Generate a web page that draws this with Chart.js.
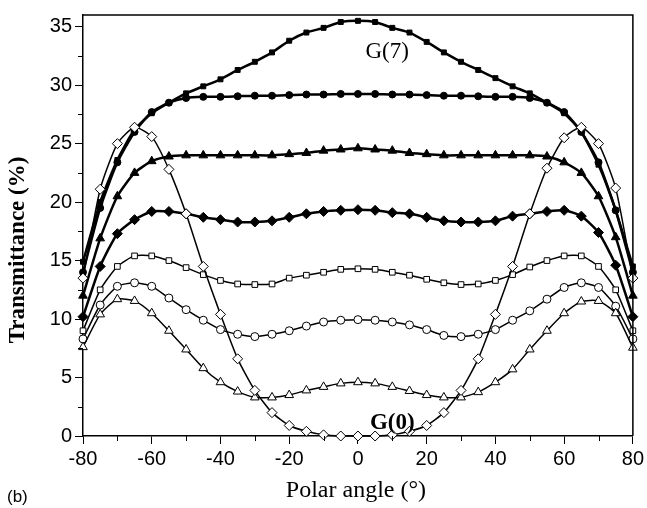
<!DOCTYPE html>
<html>
<head>
<meta charset="utf-8">
<script src="https://cdn.jsdelivr.net/npm/chart.js@4/dist/chart.umd.min.js"></script>
<style>
  html, body { margin: 0; padding: 0; background: #fff; }
  #wrap { width: 647px; height: 508px; }
</style>
</head>
<body>
<div id="wrap"><canvas id="trans-chart" width="647" height="508"></canvas></div>
<script>
// polar angle in degrees, one point every 5 degrees
const angles = [-80, -75, -70, -65, -60, -55, -50, -45, -40, -35, -30, -25, -20, -15, -10, -5, 0,
                5, 10, 15, 20, 25, 30, 35, 40, 45, 50, 55, 60, 65, 70, 75, 80];

// transmittance (%) per grating
const g0 = [13.5, 21.1, 25.0, 26.4, 25.6, 22.8, 19.0, 14.5, 10.4, 6.6, 3.9, 2.0, 0.9, 0.4, 0.1, 0.0, 0.0,
            0.0, 0.1, 0.4, 0.9, 2.0, 3.9, 6.6, 10.4, 14.5, 19.0, 22.9, 25.5, 26.4, 25.0, 21.2, 13.5];
const openTriangle = [7.6, 10.4, 11.7, 11.55, 10.5, 9.0, 7.4, 5.8, 4.6, 3.8, 3.3, 3.3, 3.5, 3.9, 4.2, 4.5, 4.6,
                      4.5, 4.2, 3.85, 3.5, 3.3, 3.3, 3.75, 4.6, 5.7, 7.4, 9.0, 10.5, 11.5, 11.55, 10.5, 7.55];
const openCircle = [8.3, 11.2, 12.8, 13.1, 12.8, 11.8, 10.8, 9.9, 9.1, 8.7, 8.5, 8.7, 9.0, 9.4, 9.75, 9.9, 9.95,
                    9.9, 9.75, 9.5, 9.1, 8.6, 8.5, 8.7, 9.1, 9.9, 10.7, 11.7, 12.7, 13.1, 12.7, 11.1, 8.3];
const openSquare = [9.0, 12.5, 14.5, 15.4, 15.4, 15.0, 14.4, 13.8, 13.3, 13.0, 12.95, 13.0, 13.5, 13.75, 14.0, 14.25, 14.3,
                    14.25, 14.0, 13.75, 13.4, 13.1, 12.95, 13.0, 13.3, 13.8, 14.45, 15.0, 15.4, 15.4, 14.5, 12.5, 9.0];
const filledDiamond = [10.2, 14.5, 17.3, 18.5, 19.2, 19.2, 19.0, 18.7, 18.5, 18.3, 18.3, 18.4, 18.7, 19.0, 19.2, 19.3, 19.35,
                       19.3, 19.1, 19.0, 18.7, 18.4, 18.3, 18.3, 18.4, 18.8, 19.0, 19.2, 19.3, 18.8, 17.4, 14.6, 10.2];
const filledTriangle = [12.0, 16.9, 20.5, 22.5, 23.5, 23.9, 24.0, 24.0, 24.0, 24.0, 24.0, 24.0, 24.1, 24.2, 24.4, 24.5, 24.6,
                        24.5, 24.4, 24.2, 24.1, 24.0, 24.0, 24.0, 24.0, 24.0, 24.0, 23.9, 23.4, 22.5, 20.5, 17.0, 12.0];
const filledCircle = [14.0, 19.5, 23.4, 26.0, 27.7, 28.5, 28.9, 29.0, 29.0, 29.05, 29.1, 29.1, 29.15, 29.2, 29.2, 29.25, 29.25,
                      29.25, 29.2, 29.2, 29.15, 29.1, 29.1, 29.05, 29.0, 29.0, 28.9, 28.5, 27.7, 26.0, 23.4, 19.3, 14.0];
const g7 = [14.9, 20.0, 23.6, 26.2, 27.6, 28.5, 29.3, 29.9, 30.5, 31.3, 32.0, 32.8, 33.8, 34.5, 34.9, 35.4, 35.5,
            35.4, 34.9, 34.5, 33.7, 32.8, 32.0, 31.3, 30.6, 29.9, 29.3, 28.5, 27.6, 26.0, 23.2, 19.3, 14.5];

// axis ticks
const xTicks = [-80, -60, -40, -20, 0, 20, 40, 60, 80];
const xMinorTicks = [-70, -50, -30, -10, 10, 30, 50, 70];
const yTicks = [0, 5, 10, 15, 20, 25, 30, 35];
const yMinorTicks = [2.5, 7.5, 12.5, 17.5, 22.5, 27.5, 32.5];

// curve labels, placed in data coordinates
const curveLabels = [
    { text: 'G(7)', x: 8.5, y: 32.8, bold: false },
    { text: 'G(0)', x: 10, y: 1.1, bold: true }
];

function series(values) {
    return values.map((v, i) => ({ x: angles[i], y: v }));
}

function makeSet(label, values, style, radius, filled, lineWidth) {
    return {
        label: label,
        data: series(values),
        borderColor: '#000',
        borderWidth: lineWidth,
        pointStyle: style,
        pointRadius: radius,
        pointBorderWidth: 1,
        pointBorderColor: '#000',
        pointBackgroundColor: filled ? '#000' : '#fff',
        tension: 0.2,
        clip: false
    };
}

// top/right frame, minor ticks, axis titles and curve labels
const decorPlugin = {
    id: 'decor',
    afterDraw(chart) {
        let ctx = chart.ctx;
        let area = chart.chartArea;
        let xs = chart.scales.x;
        let ys = chart.scales.y;
        ctx.save();
        ctx.strokeStyle = '#000';
        ctx.lineWidth = 1.5;
        ctx.beginPath();
        ctx.moveTo(area.left, area.top);
        ctx.lineTo(area.right, area.top);
        ctx.lineTo(area.right, area.bottom);
        ctx.stroke();

        ctx.lineWidth = 1;
        ctx.beginPath();
        xMinorTicks.forEach(v => {
            let px = Math.round(xs.getPixelForValue(v)) + 0.5;
            ctx.moveTo(px, area.bottom);
            ctx.lineTo(px, area.bottom + 5);
        });
        yMinorTicks.forEach(v => {
            let py = Math.round(ys.getPixelForValue(v)) + 0.5;
            ctx.moveTo(area.left, py);
            ctx.lineTo(area.left - 5, py);
        });
        ctx.stroke();

        ctx.fillStyle = '#000';
        ctx.textAlign = 'center';
        ctx.textBaseline = 'middle';
        ctx.font = '24px "Liberation Serif", "Times New Roman", serif';
        ctx.fillText('Polar angle (\u00B0)', (area.left + area.right) / 2 - 2, 491);

        ctx.save();
        ctx.translate(18, 250);
        ctx.rotate(-Math.PI / 2);
        ctx.font = 'bold 23px "Liberation Serif", "Times New Roman", serif';
        ctx.fillText('Transmittance (%)', 0, 0);
        ctx.restore();

        ctx.textAlign = 'left';
        ctx.font = '17px "Liberation Sans", Arial, sans-serif';
        ctx.fillText('(b)', 7, 497);

        ctx.textAlign = 'center';
        curveLabels.forEach(l => {
            ctx.font = (l.bold ? 'bold ' : '') + '23px "Liberation Serif", "Times New Roman", serif';
            ctx.fillText(l.text, xs.getPixelForValue(l.x), ys.getPixelForValue(l.y));
        });
        ctx.restore();
    }
};

function renderChart() {
    let ctx = document.getElementById('trans-chart');
    let tickFont = { family: '"Liberation Sans", Arial, sans-serif', size: 20 };

    new Chart(ctx, {
        type: 'line',
        data: {
            datasets: [
                makeSet('G(0)', g0, 'rectRot', 5, false, 1.5),
                makeSet('open triangles', openTriangle, 'triangle', 5, false, 1.5),
                makeSet('open circles', openCircle, 'circle', 4, false, 1.5),
                makeSet('open squares', openSquare, 'rect', 4, false, 1.5),
                makeSet('filled diamonds', filledDiamond, 'rectRot', 5, true, 2.5),
                makeSet('filled triangles', filledTriangle, 'triangle', 5, true, 2.5),
                makeSet('filled circles', filledCircle, 'circle', 3.5, true, 2.5),
                makeSet('G(7)', g7, 'rect', 3.5, true, 2.5)
            ]
        },
        options: {
            responsive: false,
            animation: false,
            layout: { padding: { top: 10, right: 11, left: 0, bottom: 0 } },
            plugins: {
                legend: { display: false },
                tooltip: { enabled: false }
            },
            scales: {
                x: {
                    type: 'linear',
                    min: -80,
                    max: 80,
                    afterBuildTicks: scale => { scale.ticks = xTicks.map(v => ({ value: v })); },
                    afterFit: scale => { scale.height = 72; },
                    grid: { drawOnChartArea: false, tickLength: 8, tickColor: '#000', tickWidth: 1 },
                    border: { color: '#000', width: 1.5 },
                    ticks: { font: tickFont, color: '#000', padding: 3, maxRotation: 0 }
                },
                y: {
                    min: 0,
                    max: 36,
                    afterBuildTicks: scale => { scale.ticks = yTicks.map(v => ({ value: v })); },
                    afterFit: scale => { scale.width = 83; },
                    grid: { drawOnChartArea: false, tickLength: 8, tickColor: '#000', tickWidth: 1 },
                    border: { color: '#000', width: 1.5 },
                    ticks: { font: tickFont, color: '#000', padding: 3 }
                }
            }
        },
        plugins: [decorPlugin]
    });
}

renderChart();
</script>
</body>
</html>
